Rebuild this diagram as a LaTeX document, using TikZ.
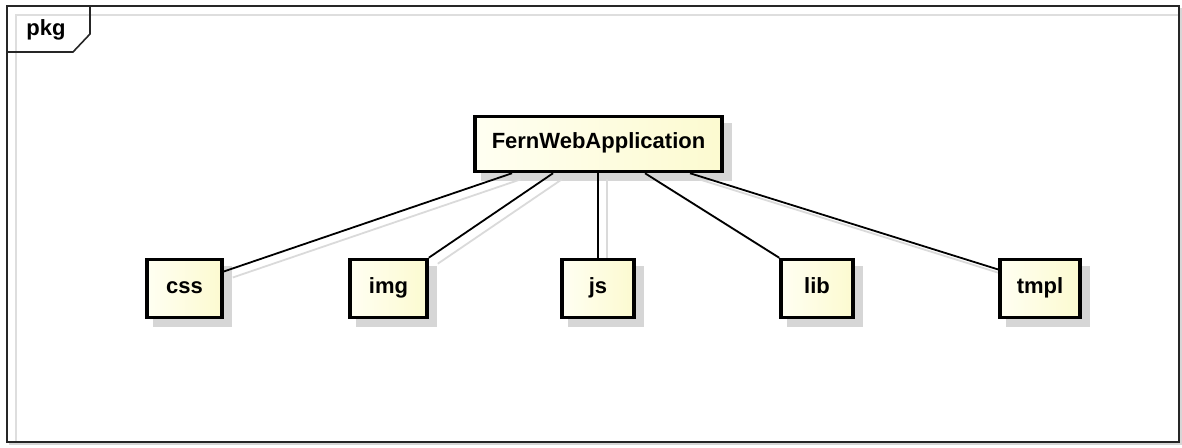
\documentclass[tikz,border=0pt]{standalone}
\usepackage{fontspec}
\setmainfont{Liberation Sans}
\usetikzlibrary{backgrounds,calc}
\pgfdeclarelayer{fg}
\pgfsetlayers{background,main,fg}
\definecolor{boxleft}{RGB}{255,255,242}
\definecolor{boxright}{RGB}{252,250,208}
\definecolor{shadowgray}{RGB}{214,214,214}
\definecolor{innergray}{RGB}{222,222,222}
\definecolor{lineshadow}{RGB}{218,218,218}
\tikzset{
  labelfont/.style={font=\fontsize{22}{26}\selectfont\bfseries, text height=15pt, text depth=6pt},
  pkgbox/.style={draw=black, line width=3.5pt, left color=boxleft, right color=boxright,
    minimum height=58pt, inner sep=0pt, labelfont},
  boxshadow/.style={fill=shadowgray},
  dep/.style={draw=black, line width=1.8pt},
  depshadow/.style={draw=lineshadow, line width=1.8pt},
  frameline/.style={draw=black!85, line width=1.6pt},
}
\begin{document}
\begin{tikzpicture}[x=1pt,y=-1pt]
\useasboundingbox (0,0) rectangle (1182,447);
% frame
\draw[innergray, line width=1.2pt] (16,442) -- (16,15) -- (1179,15);
\draw[frameline] (7,6) rectangle (1179,442);
\draw[shadowgray, line width=1.2pt] (1181,8) -- (1181,444) -- (9,444);
\draw[frameline] (7,52) -- (73,52) -- (90,34) -- (90,6);
\node[labelfont, inner sep=0pt, anchor=center] (pkglabel) at (46,31) {pkg};
% nodes
\begin{pgfonlayer}{fg}
\node[pkgbox, minimum width=247pt, minimum height=55pt] (fwa) at (598.5,144) {FernWebApplication};
\node[pkgbox, minimum width=75pt] (css) at (184.5,288.5) {css};
\node[pkgbox, minimum width=77pt] (img) at (388.5,288.5) {img};
\node[pkgbox, minimum width=72pt] (js) at (598,288.5) {js};
\node[pkgbox, minimum width=72pt] (lib) at (817,288.5) {lib};
\node[pkgbox, minimum width=80pt] (tmpl) at (1040,288.5) {tmpl};
\end{pgfonlayer}
% shadows
\begin{pgfonlayer}{background}
  \foreach \n in {fwa,css,img,js,lib,tmpl}
    \fill[boxshadow] ($(\n.south west)+(8,8)$) rectangle ($(\n.north east)+(8,8)$);
  \draw[depshadow] ($(fwa.south)+(-77.5,6)$) -- ($(css.east)+(9,-11)$);
  \draw[depshadow] ($(fwa.south)+(-36.5,6)$) -- ($(img.north east)+(9,6)$);
  \draw[depshadow] ($(fwa.south -| js.north)+(9,6)$) -- ($(js.north)+(9,6)$);
  \draw[depshadow] ($(fwa.south)+(55.5,6)$) -- ($(lib.north west)+(9,6)$);
  \draw[depshadow] ($(fwa.south)+(100.5,6)$) -- ($(tmpl.west)+(9,-13)$);
\end{pgfonlayer}
% connectors
\draw[dep] ([xshift=-86.5pt]fwa.south) -- ([yshift=17pt]css.east);
\draw[dep] ([xshift=-45.5pt]fwa.south) -- (img.north east);
\draw[dep] (fwa.south -| js.north) -- (js.north);
\draw[dep] ([xshift=46.5pt]fwa.south) -- (lib.north west);
\draw[dep] ([xshift=91.5pt]fwa.south) -- ([yshift=19pt]tmpl.west);
\end{tikzpicture}
\end{document}
